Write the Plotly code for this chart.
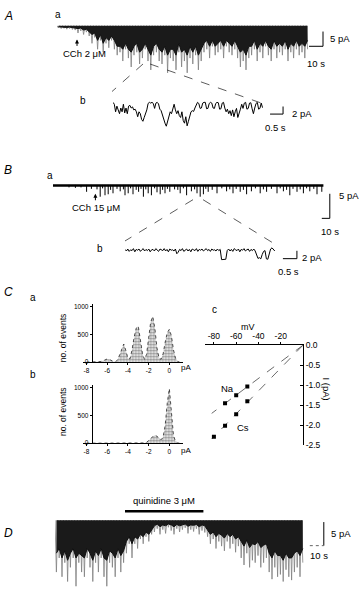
import plotly.graph_objects as go

W, H = 359, 595
FONT = "Liberation Sans, Arial, sans-serif"


def xp(px):
    return px / W


def yp(py):
    return 1 - py / H


# ================= DATA =================
# ---- Panel A a: envelope of the current trace in 2-s bins (pA) ----
aa_bin_s = 2.0
aa_peak_pA = [-0.8, -1, -0.9, -1.2, -1, -1.3, -1.5,
              -2.5, -1.8, -3, -2.2, -3.5,
              -6, -4, -8, -5, -9, -6, -7.5, -5, -8, -10,
              -9, -12, -8, -11, -14, -10, -9, -13, -11, -8, -12, -15, -10, -9, -12,
              -13, -10, -16, -11, -12, -15, -9, -14, -12, -16, -11, -13, -10, -15, -12,
              -9, -8, -11, -7, -10, -9, -8, -11, -7, -9, -10, -8, -11,
              -14, -12, -15, -11,
              -10, -8, -12, -9, -11, -7, -10, -12, -8, -11, -9, -10, -8, -12, -9, -11, -8, -10, -9, -11, -8]
aa_dense_pA = [-0.4, -0.5, -0.5, -0.6, -0.5, -0.6, -0.7,
               -1, -0.8, -1.5, -1.2, -2,
               -3, -2.5, -5, -3, -6, -4, -5, -3.5, -5, -7,
               -7, -8, -6, -8, -9, -7, -6, -9, -8, -6, -8, -10, -7, -6, -8,
               -9, -7, -10, -8, -8, -10, -6, -9, -8, -10, -7, -9, -7, -10, -8,
               -6, -5, -7, -5, -7, -6, -5, -7, -5, -6, -7, -5, -7,
               -9, -8, -10, -7,
               -7, -5, -8, -6, -7, -5, -7, -8, -5, -7, -6, -7, -5, -8, -6, -7, -5, -7, -6, -7, -5]
aa_time_s = [i * aa_bin_s for i in range(len(aa_peak_pA))]
cch2_time_s = 14.3

# ---- Panel A b: expanded segment, sampled every 50 ms (pA) ----
ab_sample_s = 0.05
ab_current_pA = [0, -0.5, -2.5, -1, -2, -3, -1.5, -2.5, -0.5, -2.8, -1.5, -3, -1,
                 -0.8, -1.5, -1.2, -2, -1.8, -2.5, -3.8, -2.5, -3, -4.5, -5, -4, -3,
                 -2, -0.3, 0, -0.2, 0, -0.3, -1.6, -0.2, 0, -0.4, -1.8, -2.2, -3.5,
                 -4.5, -5.5, -6.3, -5, -3.5, -2.5, -3, -1.8, -0.5, -2, -3, -2.2, -3.5,
                 -4, -2.5, -4.8, -5.5, -3.8, -6.2, -5, -3.5, -2.5, -2.2, -2.4, -1.5, -0.5,
                 0, -0.3, -1.6, -1.5, -0.2, 0, 0, -1.7, -1.6, -0.3, 0, -0.2, -1.5,
                 -1.6, -0.3, 0, -0.1, -1.8, -1.7, -0.2, 0, -1.5, -2.5, -1.8, -3, -2.2,
                 -3.5, -2, -3.8, -2.5, -1.6, -4, -2.5, -1.8, -0.5, -1.6, -0.2, 0, -1.8,
                 -1.6, -0.2, -0.1, -1.7, -3, -1.5, -0.3, 0, -1.8, -1.6, -0.2, -1.4]

# ---- Panel B a: channel openings (time s, amplitude pA) ----
ba_end_s = 338
cch15_time_s = 53
ba_event_s = [42, 59, 65, 69, 75, 84, 90, 94, 100, 107, 113, 119, 123, 130, 134, 140, 146, 159, 167, 173,
              180, 184, 188, 194, 205, 217, 225, 234, 242, 248, 259, 267, 280, 288, 296, 305, 313, 321, 330, 336]
ba_event_pA = [-1.4, -2.4, -2.1, -1.9, -1.7, -1.3, -2.1, -1.7, -1.9, -1.4, -2.4, -1.7, -2.1, -1.5, -1.9, -1.7,
               -1.4, -1.7, -2.1, -1.3, -1.7, -2.4, -1.9, -1.4, -1.7, -1.3, -1.7, -1.4, -1.9, -1.3, -1.7, -1.4,
               -1.7, -1.3, -2.1, -1.4, -1.7, -1.3, -1.9, -1.4]
ba_flicker_s = [20, 28, 35, 48, 55, 62, 72, 80, 88, 97, 104, 110, 116, 127, 137, 143, 152, 156, 163, 177,
                191, 199, 211, 221, 229, 238, 253, 263, 273, 284, 292, 300, 309, 317, 326]
ba_flicker_pA = [-0.5, -0.6, -0.5, -0.8, -0.9, -0.7, -1.0, -0.8, -0.9, -0.7, -1.0, -0.8, -0.9, -0.7, -1.0,
                 -0.8, -0.9, -1.0, -0.7, -0.9, -0.8, -1.0, -0.7, -0.9, -0.8, -1.0, -0.7, -0.9, -0.8, -0.7,
                 -1.0, -0.8, -0.9, -0.7, -0.8]

# ---- Panel B b: expanded segment, sampled every 50 ms (pA) ----
bb_sample_s = 0.05
bb_current_pA = [0.1, -0.3, 0.2, -0.4, 0, -0.2, 0.3, -0.5, 0.1, -0.1, 0.2, -0.4, 0, 0.3, -0.3, 0.1, -0.2, 0.2,
                 -0.5, 0, 0.1, -0.3, 0.3, -0.1, -0.4, 0.2, 0, -0.2, 0.3, -0.3, 0.1, -0.5, 0.2, -0.1, 0, -0.3, 0.2,
                 -1.0, -0.6,
                 0.1, -0.2, 0.3, -0.4, 0, 0.2, -0.3, 0.1, -0.5, 0.2, 0, -0.2, 0.3, -0.4, 0.1, -0.1, 0.2, -0.3,
                 0, 0.3, -0.2, 0.1, -0.4, 0.2, -0.1, 0, -0.3, 0.2, -0.2, 0.1,
                 -2.5, -2.5, -2.5, -2.4,
                 -0.2, 0.2, -0.3, 0.1, -0.4, 0.3, 0, -0.2, 0.2, -0.5, 0.1, -0.1, 0.3, -0.3, 0, 0.2, -0.4, 0.1,
                 -0.2, 0.2, -0.3,
                 -1.5, -2.2, -2.0, -2.3, -1.2,
                 -0.4, -0.2,
                 -2.3, -2.4, -1.0,
                 0.2, 0.5,
                 0, -0.3]

# ---- Panel C: amplitude histograms (0.2 pA bins) ----
hist_pA = [round(-8.0 + 0.2 * i, 1) for i in range(46)]
ca_counts = [0, 0, 0, 0, 0, 2, 5, 12, 25, 45,
             58, 50, 30, 12, 8, 40, 130, 250, 325, 210,
             70, 60, 220, 450, 610, 645, 420, 160, 50, 140,
             430, 720, 820, 610, 260, 80, 50, 150, 360, 530,
             590, 470, 220, 70, 15, 0]
cb_counts = [0, 0, 0, 0, 0, 0, 0, 0, 0, 0,
             2, 0, 0, 0, 0, 0, 0, 1, 1, 1,
             2, 1, 2, 2, 3, 2, 3, 4, 5, 15,
             40, 80, 120, 140, 125, 85, 60, 110, 320, 720,
             980, 560, 140, 30, 5, 0]
hist_ticks = [-8, -6, -4, -2, 0]
count_ticks = [0, 500, 1000]

# ---- Panel C c: single-channel I-V ----
iv_na_mV = [-50, -60, -70]
iv_na_pA = [-1.03, -1.25, -1.45]
iv_cs_mV = [-50, -60, -70, -80]
iv_cs_pA = [-1.40, -1.72, -2.01, -2.28]
iv_fit_to_mV = -82
mv_ticks = [-80, -60, -40, -20]
pa_ticks = [0.0, -0.5, -1.0, -1.5, -2.0, -2.5]

# ---- Panel D: envelope in 2-s bins (pA) ----
d_bin_s = 2.0
d_peak_pA = [-11, -8, -12, -9, -13, -10, -8, -14, -9, -11, -12, -8, -10, -13, -9, -11, -8, -12, -14, -9,
             -10, -12, -8, -11, -9,
             -7, -5, -8, -5, -6, -4, -5, -3.5, -4.5, -3,
             -2.5, -1.8, -3, -2, -2.8, -1.5, -2.2, -3, -1.8, -2.5, -2, -1.6, -2.8, -2, -2.4, -1.8, -3, -2.2, -2.6,
             -3.5, -5, -4, -6, -4.5, -5.5, -6.5, -4.5, -6, -5, -6.8, -5.5,
             -8, -9.5, -7, -10, -8.5, -9, -7.5, -10, -9, -8,
             -11, -12.5, -10, -12, -11.5, -13, -10.5, -12, -12.7, -11, -10, -12, -9]
d_dense_pA = [-7, -6, -8, -6.5, -8.5, -7, -6, -8, -7, -7.5, -8, -6, -7, -8.5, -6.5, -7.5, -6, -8, -8.5, -6.5,
              -7, -8, -6, -7.5, -6.5,
              -4.5, -3.5, -5, -3.5, -4, -3, -3.5, -2.5, -3, -2,
              -1.2, -0.8, -1.4, -1, -1.2, -0.8, -1, -1.4, -0.9, -1.2, -1, -0.8, -1.3, -1, -1.1, -0.9, -1.4, -1, -1.2,
              -2, -3, -2.5, -3.5, -2.8, -3.2, -3.8, -2.8, -3.5, -3, -4, -3.5,
              -4.5, -5.5, -4.2, -5.8, -5, -5.2, -4.5, -5.8, -5.3, -5,
              -7, -8, -6.5, -7.5, -7.5, -8.5, -7, -8, -8, -7, -6.5, -7.5, -6]
d_time_s = [i * d_bin_s for i in range(len(d_peak_pA))]
quinidine_s = [50, 106]

# ================= FIGURE =================
fig = go.Figure()
layout = dict(width=W, height=H, margin=dict(l=0, r=0, t=0, b=0),
              paper_bgcolor="white", plot_bgcolor="white", showlegend=False,
              font=dict(family=FONT, color="black"))


def sfx(n):
    return "" if n == 1 else str(n)


def hidden_axes(n, px0, px1, py_top, py_bot, xr, yr):
    s = sfx(n)
    layout["xaxis" + s] = dict(domain=[xp(px0), xp(px1)], range=xr, visible=False,
                               anchor="y" + s, fixedrange=True)
    layout["yaxis" + s] = dict(domain=[yp(py_bot), yp(py_top)], range=yr, visible=False,
                               anchor="x" + s, fixedrange=True)


def line(n, x, y, color="black", width=1, dash="solid", shape="linear", fill=None, fillcolor=None):
    s = sfx(n)
    fig.add_trace(go.Scatter(x=x, y=y, mode="lines", xaxis="x" + s, yaxis="y" + s,
                             line=dict(color=color, width=width, dash=dash, shape=shape),
                             fill=fill, fillcolor=fillcolor if fill else None,
                             hoverinfo="skip"))


def spike_zigzag(times, lows, dt):
    xs, ys = [], []
    for t, lo in zip(times, lows):
        xs += [t, t + 0.5 * dt]
        ys += [0.0, lo]
    return xs, ys


def dense_edge(times, lows, dt):
    xs = [t + 0.5 * dt for t in times]
    return xs, list(lows)


def spikes(times, amps):
    xs, ys = [], []
    for t, a in zip(times, amps):
        xs += [t, t, None]
        ys += [0, a, None]
    return xs, ys


# ---- A a ----
hidden_axes(1, 57, 330, 16.5, 72, [0, 195], [-17, 1.5])
x, y = spike_zigzag(aa_time_s, aa_peak_pA, aa_bin_s)
line(1, x, y, color="#808080", width=0.8)
x, y = dense_edge(aa_time_s, aa_dense_pA, aa_bin_s)
line(1, x, y, color="#111", width=1, fill="tozeroy", fillcolor="#1a1a1a")
line(1, [180, 190, 190], [-7, -7, -2])

# ---- A b ----
hidden_axes(2, 113, 291.9, 94.0, 127.9, [0, 6.88], [-7.5, 1.3])
ab_t = [i * ab_sample_s for i in range(len(ab_current_pA))]
line(2, ab_t, ab_current_pA, width=1)
line(2, [6.04, 6.54, 6.54], [-3.1, -3.1, -1.1])

# ---- B a ----
hidden_axes(3, 53, 333, 176, 219, [0, 350], [-7.2, 1.4])
line(3, [0, ba_end_s], [-0.1, -0.1], width=2.5)
x, y = spikes(ba_flicker_s, ba_flicker_pA)
line(3, x, y, width=1)
x, y = spikes(ba_event_s, ba_event_pA)
line(3, x, y, width=1)
line(3, [336, 346, 346], [-6.8, -6.8, -1.8])

# ---- B b ----
hidden_axes(4, 125, 301.4, 243, 263, [0, 6.3], [-3.5, 1.5])
bb_t = [i * bb_sample_s for i in range(len(bb_current_pA))]
line(4, bb_t, bb_current_pA, width=1)
line(4, [5.64, 6.14, 6.14], [-2.25, -2.25, -0.25])


# ---- C a / C b histograms ----
def hist_axes(n, py_zero):
    s = sfx(n)
    common = dict(showline=True, linecolor="black", linewidth=1, ticks="outside",
                  ticklen=2, tickwidth=1, tickcolor="black",
                  tickfont=dict(size=6.5, family=FONT, color="black"),
                  showgrid=False, zeroline=False, fixedrange=True)
    layout["xaxis" + s] = dict(domain=[xp(83.4), xp(182.8)], range=[-8.3, 1.3], anchor="y" + s,
                               tickvals=hist_ticks, ticktext=[str(v) for v in hist_ticks], **common)
    layout["yaxis" + s] = dict(domain=[yp(py_zero), yp(py_zero - 59)], range=[0, 1040],
                               anchor="free", position=xp(91.7),
                               tickvals=count_ticks, ticktext=[str(v) for v in count_ticks], **common)


hist_axes(5, 363.3)
hist_axes(6, 445.7)
for n, counts in ((5, ca_counts), (6, cb_counts)):
    s = sfx(n)
    fig.add_trace(go.Scatter(x=hist_pA, y=counts, mode="lines", xaxis="x" + s, yaxis="y" + s,
                             fill="tozeroy", fillcolor="white",
                             fillpattern=dict(shape=".", fgcolor="#222", bgcolor="white",
                                              size=3, solidity=0.6),
                             line=dict(color="#222", width=0.8, dash="dot"), hoverinfo="skip"))

# ---- C c I-V ----
iv_common = dict(showline=True, linecolor="black", linewidth=1, tickcolor="black",
                 tickfont=dict(size=8.5, family=FONT, color="black"),
                 showgrid=False, zeroline=False, fixedrange=True)
layout["xaxis7"] = dict(domain=[xp(205), xp(303)], range=[-88, 0], anchor="y7", side="top",
                        ticks="outside", ticklen=2,
                        tickvals=mv_ticks, ticktext=[str(v) for v in mv_ticks], **iv_common)
layout["yaxis7"] = dict(domain=[yp(448), yp(346)], range=[-2.5, 0], anchor="x7", side="right",
                        ticks="inside", ticklen=3,
                        tickvals=pa_ticks, ticktext=["%.1f" % v for v in pa_ticks], **iv_common)


def slope_through_origin(xs, ys):
    return sum(a * b for a, b in zip(xs, ys)) / sum(a * a for a in xs)


for mv, pa in ((iv_na_mV, iv_na_pA), (iv_cs_mV, iv_cs_pA)):
    g = slope_through_origin(mv, pa)
    line(7, [0, iv_fit_to_mV], [0, g * iv_fit_to_mV], color="#444", width=0.8, dash="dash")
    fig.add_trace(go.Scatter(x=mv, y=pa, mode="markers", xaxis="x7", yaxis="y7",
                             marker=dict(symbol="square", size=4, color="black"), hoverinfo="skip"))

# ---- D ----
hidden_axes(8, 55, 328, 512, 595, [0, 195], [-14.8, 2.5])
x, y = spike_zigzag(d_time_s, d_peak_pA, d_bin_s)
line(8, x, y, color="#808080", width=0.8)
x, y = dense_edge(d_time_s, d_dense_pA, d_bin_s)
line(8, x, y, color="#111", width=1, fill="tozeroy", fillcolor="#1a1a1a")
line(8, quinidine_s, [1.9, 1.9], width=2.5)
line(8, [192, 192], [-5.4, -0.4])
line(8, [182, 192], [-5.4, -5.4], color="#666", dash="dot")

# ================= TEXT =================
ann = []


def text(t, px, py, size=9.5, xanchor="center", angle=0):
    ann.append(dict(text=t, x=xp(px), y=yp(py), xref="paper", yref="paper", showarrow=False,
                    xanchor=xanchor, yanchor="middle", textangle=angle,
                    font=dict(size=size, family=FONT, color="black")))


text("<i>A</i>", 8, 11, 12)
text("a", 58, 10, 10)
text("CCh 2 μM", 84, 49)
text("5 pA", 328, 34, xanchor="left")
text("10 s", 316, 59)
text("b", 83, 97, 10)
text("2 pA", 290, 110, xanchor="left")
text("0.5 s", 275, 125)

text("<i>B</i>", 8, 168, 12)
text("a", 50, 173, 10)
text("CCh 15 μM", 96, 206)
text("5 pA", 337, 194, xanchor="left")
text("10 s", 330, 230)
text("b", 100, 248, 10)
text("2 pA", 300, 257, xanchor="left")
text("0.5 s", 288, 271)

text("<i>C</i>", 8, 292, 12)
text("a", 33, 298, 10)
text("b", 33, 376, 10)
text("c", 215, 310, 10)
text("no. of events", 63, 338, 8.5, angle=-90)
text("no. of events", 63, 413, 8.5, angle=-90)
text("pA", 186, 369, 8)
text("pA", 186, 453, 8)
text("mV", 248, 328, 9)
text("I (pA)", 327, 390, 9.5, angle=90)
text("Na", 227, 390)
text("Cs", 243, 430)

text("<i>D</i>", 8, 537, 12)
text("quinidine 3 μM", 164, 504)
text("5 pA", 329, 538, xanchor="left")
text("10 s", 319, 560)

# agonist arrows
ann.append(dict(x=cch2_time_s, y=-4.67, xref="x", yref="y", ax=0, ay=8, text="", showarrow=True,
                arrowhead=2, arrowsize=0.8, arrowwidth=1, arrowcolor="black"))
ann.append(dict(x=cch15_time_s, y=-1.8, xref="x3", yref="y3", ax=0, ay=8, text="", showarrow=True,
                arrowhead=2, arrowsize=0.8, arrowwidth=1, arrowcolor="black"))

layout["annotations"] = ann

# dashed connector lines to expanded traces
shapes = []
for (x0, y0, x1, y1) in [(143, 60, 112, 88), (150, 60, 262, 100),
                         (193, 198, 125, 240), (203, 198, 273, 242)]:
    shapes.append(dict(type="line", xref="paper", yref="paper", x0=xp(x0), y0=yp(y0),
                       x1=xp(x1), y1=yp(y1), line=dict(color="#333", width=0.8, dash="dash")))
layout["shapes"] = shapes

fig.update_layout(**layout)
fig.write_html("out.html",
               config={"displayModeBar": False, "staticPlot": True},
               post_script="document.body.style.margin='0px';document.body.style.overflow='hidden';")
